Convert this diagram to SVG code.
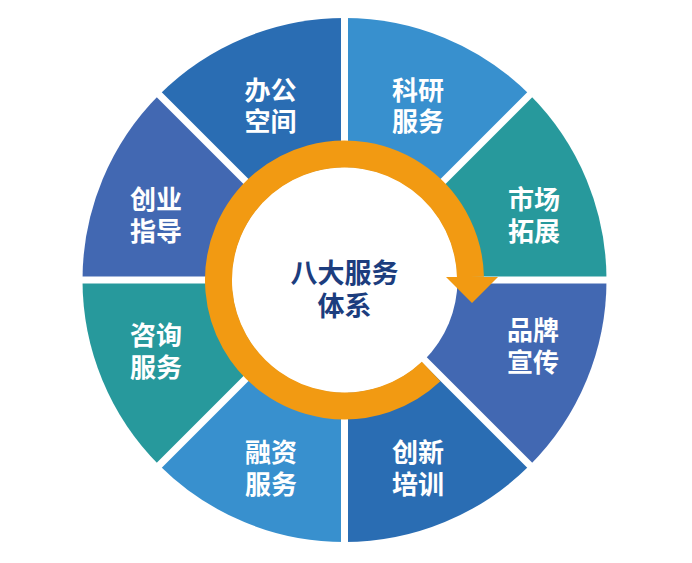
<svg xmlns="http://www.w3.org/2000/svg" width="692" height="563" viewBox="0 0 692 563">
  <style>
    .lbl { font-family: "Noto Sans CJK SC", "Noto Sans", sans-serif; font-weight: 700; font-size: 26px; fill: #ffffff; text-anchor: middle; }
    .ctr { font-family: "Noto Sans CJK SC", "Noto Sans", sans-serif; font-weight: 700; font-size: 27px; fill: #1c3d7e; text-anchor: middle; }
    .dark { fill: #2a6db3; }
    .light { fill: #3890ce; }
    .teal { fill: #27999c; }
    .indigo { fill: #4268b2; }
    .gap { stroke: #ffffff; stroke-width: 7; }
    .ring { fill: none; stroke: #f29a12; stroke-width: 27; }
    .head { fill: #f29a12; }
  </style>
  <rect width="692" height="563" fill="#ffffff"/>

  <g id="node-ban-gong-kong-jian">
    <path class="dark" d="M344.5,280 L159.24,94.74 A262,262 0 0 1 344.5,18 Z"/>
    <text class="lbl"><tspan x="270.5" y="100.4">办公</tspan><tspan x="270.5" y="131">空间</tspan></text>
  </g>
  <g id="node-ke-yan-fu-wu">
    <path class="light" d="M344.5,280 L344.5,18 A262,262 0 0 1 529.76,94.74 Z"/>
    <text class="lbl"><tspan x="418" y="100.4">科研</tspan><tspan x="418" y="131">服务</tspan></text>
  </g>
  <g id="node-shi-chang-tuo-zhan">
    <path class="teal" d="M344.5,280 L529.76,94.74 A262,262 0 0 1 606.5,280 Z"/>
    <text class="lbl"><tspan x="534" y="208.6">市场</tspan><tspan x="534" y="240.6">拓展</tspan></text>
  </g>
  <g id="node-pin-pai-xuan-chuan">
    <path class="indigo" d="M344.5,280 L606.5,280 A262,262 0 0 1 529.76,465.26 Z"/>
    <text class="lbl"><tspan x="533" y="339.9">品牌</tspan><tspan x="533" y="371.9">宣传</tspan></text>
  </g>
  <g id="node-chuang-xin-pei-xun">
    <path class="dark" d="M344.5,280 L529.76,465.26 A262,262 0 0 1 344.5,542 Z"/>
    <text class="lbl"><tspan x="418" y="462.2">创新</tspan><tspan x="418" y="494.2">培训</tspan></text>
  </g>
  <g id="node-rong-zi-fu-wu">
    <path class="light" d="M344.5,280 L344.5,542 A262,262 0 0 1 159.24,465.26 Z"/>
    <text class="lbl"><tspan x="271" y="462.2">融资</tspan><tspan x="271" y="494.2">服务</tspan></text>
  </g>
  <g id="node-zi-xun-fu-wu">
    <path class="teal" d="M344.5,280 L159.24,465.26 A262,262 0 0 1 82.5,280 Z"/>
    <text class="lbl"><tspan x="156" y="345.3">咨询</tspan><tspan x="156" y="377.3">服务</tspan></text>
  </g>
  <g id="node-chuang-ye-zhi-dao">
    <path class="indigo" d="M344.5,280 L82.5,280 A262,262 0 0 1 159.24,94.74 Z"/>
    <text class="lbl"><tspan x="156" y="208.6">创业</tspan><tspan x="156" y="240.6">指导</tspan></text>
  </g>

  <g id="dividers">
    <line class="gap" x1="344.5" y1="14" x2="344.5" y2="546"/>
    <line class="gap" x1="78.5" y1="280" x2="610.5" y2="280"/>
    <line class="gap" x1="157" y1="92.5" x2="532" y2="467.5"/>
    <line class="gap" x1="157" y1="467.5" x2="532" y2="92.5"/>
  </g>

  <g id="node-center">
    <circle cx="344.5" cy="280" r="113" fill="#ffffff"/>
    <text class="ctr"><tspan x="344.5" y="282.8">八大服务</tspan><tspan x="344.5" y="316.3">体系</tspan></text>
  </g>

  <g id="connectors">
    <path class="ring" d="M431.1,371.5 A126,126 0 1 1 470.46,277"/>
    <polygon class="head" points="446,277 498,277 472,303"/>
  </g>
</svg>
